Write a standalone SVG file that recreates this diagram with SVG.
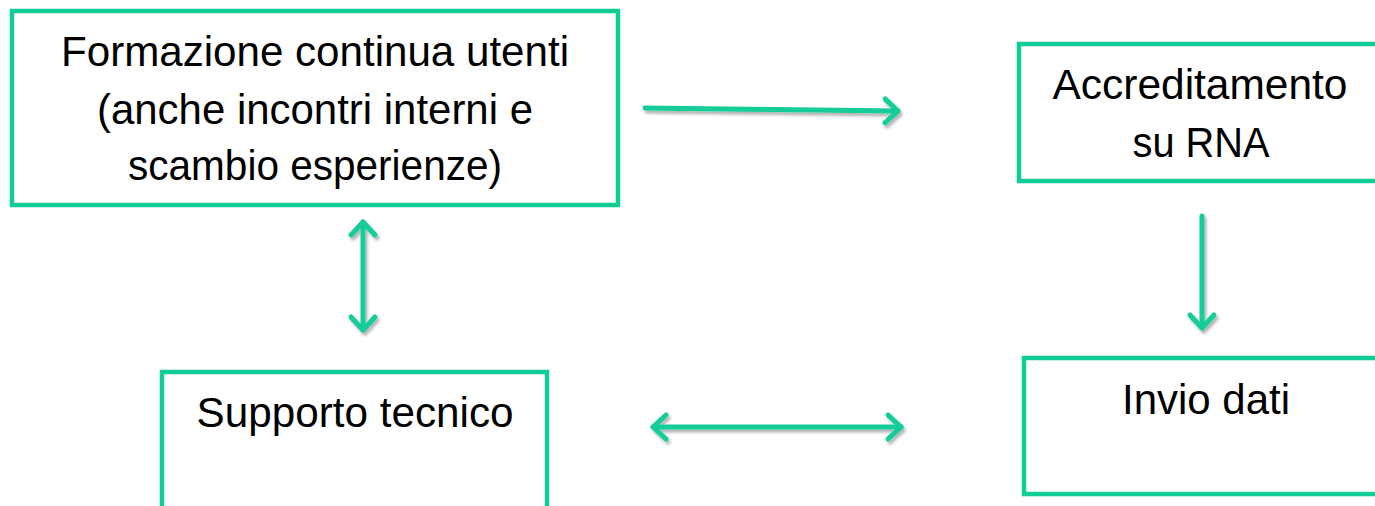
<svg xmlns="http://www.w3.org/2000/svg" width="1375" height="506" viewBox="0 0 1375 506">
<defs>
<style>
.box{fill:#fff;stroke:#12CC98;stroke-width:4.5}
.lbl{font-family:"Liberation Sans",Arial,sans-serif;font-size:43px;fill:#000;text-anchor:middle}
.conn{stroke:#12CC98;stroke-width:5;fill:none;stroke-linecap:round}
</style>
<marker id="ah" viewBox="-20 -16 24 32" markerWidth="24" markerHeight="32" refX="0" refY="0" orient="auto-start-reverse" markerUnits="userSpaceOnUse">
<path d="M-13,-12 L0,0 L-13,12" fill="none" stroke="#12CC98" stroke-width="5" stroke-linecap="round" stroke-linejoin="round"/>
</marker>
<filter id="sh" x="-20%" y="-20%" width="140%" height="140%">
<feDropShadow dx="2" dy="3" stdDeviation="1.5" flood-color="#000" flood-opacity="0.3"/>
</filter>
</defs>
<rect width="1375" height="506" fill="#fff"/>
<g id="node-formazione">
<rect class="box" x="12" y="11" width="606" height="194"/>
<text class="lbl" x="315" y="66" textLength="508" lengthAdjust="spacingAndGlyphs">Formazione continua utenti</text>
<text class="lbl" x="315" y="124" textLength="436" lengthAdjust="spacingAndGlyphs">(anche incontri interni e</text>
<text class="lbl" x="315" y="180" textLength="374" lengthAdjust="spacingAndGlyphs">scambio esperienze)</text>
</g>
<g id="node-accreditamento">
<rect class="box" x="1019" y="44" width="380" height="137"/>
<text class="lbl" x="1200" y="99" textLength="295" lengthAdjust="spacingAndGlyphs">Accreditamento</text>
<text class="lbl" x="1201" y="157" textLength="137" lengthAdjust="spacingAndGlyphs">su RNA</text>
</g>
<g id="node-supporto">
<rect class="box" x="162" y="372" width="385" height="160"/>
<text class="lbl" x="355" y="427" textLength="317" lengthAdjust="spacingAndGlyphs">Supporto tecnico</text>
</g>
<g id="node-invio">
<rect class="box" x="1024" y="358" width="380" height="136"/>
<text class="lbl" x="1206" y="414" textLength="168" lengthAdjust="spacingAndGlyphs">Invio dati</text>
</g>
<g id="connectors" filter="url(#sh)">
<line class="conn" x1="645" y1="108" x2="898" y2="111" marker-end="url(#ah)"/>
<line class="conn" x1="363" y1="222" x2="363" y2="330" marker-start="url(#ah)" marker-end="url(#ah)"/>
<line class="conn" x1="1202" y1="216" x2="1202" y2="328" marker-end="url(#ah)"/>
<line class="conn" x1="653" y1="427" x2="901" y2="427" marker-start="url(#ah)" marker-end="url(#ah)"/>
</g>
</svg>
